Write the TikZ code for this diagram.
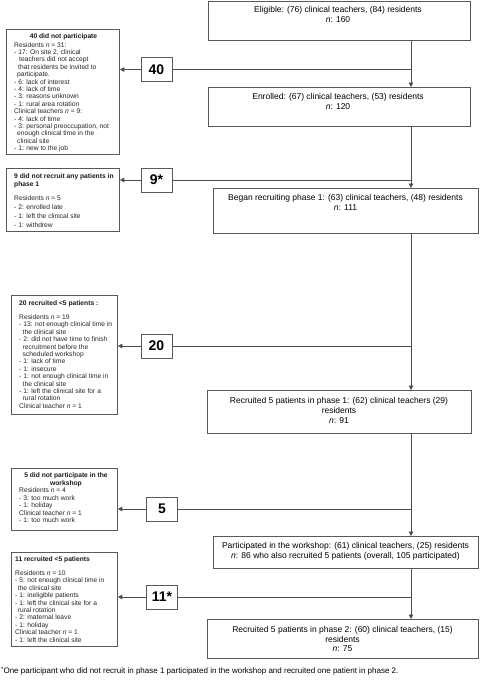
\documentclass[tikz,border=0pt]{standalone}
\usepackage{fontspec}
\setmainfont{Liberation Sans}
\usetikzlibrary{arrows.meta,calc}
\begin{document}
\begin{tikzpicture}[x=1pt,y=-1pt,
  box/.style={draw=black!65, line width=0.8pt, fill=white, inner sep=0pt, anchor=north west},
  mtext/.style={font=\fontsize{8.5}{10}\selectfont, align=center, inner sep=0pt, anchor=north},
  ltext/.style={font=\fontsize{6.7}{7.4}\selectfont, align=left, inner sep=0pt, anchor=north west, text=black!85},
  ltitle/.style={font=\fontsize{6.7}{7.8}\selectfont\bfseries, inner sep=0pt, text=black!90},
  numbox/.style={draw=black!65, line width=0.8pt, fill=white, minimum width=31pt, minimum height=24pt, inner sep=0pt, font=\fontsize{14}{14}\selectfont\bfseries},
  ln/.style={draw=black!70, line width=0.8pt},
  arr/.style={ln, -{Triangle[length=4.5pt,width=4.5pt]}}
]
\useasboundingbox (0,0) rectangle (480,680);
% main boxes
\node[box, minimum width=262pt, minimum height=39pt] (elig) at (208,1) {};
\node[mtext] at (338,6.6) {Eligible: (76) clinical teachers, (84) residents\\\textit{n}: 160};
\node[box, minimum width=262pt, minimum height=39pt] (enr) at (208,87) {};
\node[mtext] at (338,93.6) {Enrolled: (67) clinical teachers, (53) residents\\\textit{n}: 120};
\node[box, minimum width=265pt, minimum height=45pt] (began) at (213,188) {};
\node[mtext] at (345.5,194.6) {Began recruiting phase 1: (63) clinical teachers, (48) residents\\\textit{n}: 111};
\node[box, minimum width=264pt, minimum height=43pt] (rec1) at (207,390) {};
\node[mtext] at (339,397.3) {Recruited 5 patients in phase 1: (62) clinical teachers (29)\\residents\\\textit{n}: 91};
\node[box, minimum width=265pt, minimum height=32pt] (part) at (213,536) {};
\node[mtext] at (345.5,542.6) {Participated in the workshop: (61) clinical teachers, (25) residents\\\textit{n}: 86 who also recruited 5 patients (overall, 105 participated)};
\node[box, minimum width=271pt, minimum height=39pt] (rec2) at (207,619) {};
\node[mtext, font=\fontsize{8.5}{9.5}\selectfont] at (342.5,626.6) {Recruited 5 patients in phase 2: (60) clinical teachers, (15)\\residents\\\textit{n}: 75};
% junctions
\coordinate (j40) at (411,69.5);
\coordinate (j9) at (411,180);
\coordinate (j20) at (411,346);
\coordinate (j5) at (411,509);
\coordinate (j11) at (411,597);
% left boxes
\node[box, minimum width=113pt, minimum height=125pt] (b40) at (6,29) {};
\node[ltitle] at (63.5,37) {40 did not participate};
\node[ltext] at (14,42) {Residents \textit{n} = 31:\\
- 17: On site 2, clinical\\
\hspace*{5pt}teachers did not accept\\
\hspace*{4pt}that residents be invited to\\
\hspace*{3pt}participate.\\
- 6: lack of interest\\
- 4: lack of time\\
- 3: reasons unknown\\
- 1: rural area rotation\\
Clinical teachers \textit{n} = 9:\\
- 4: lack of time\\
- 3: personal preoccupation, not\\
\hspace*{3pt}enough clinical time in the\\
\hspace*{3pt}clinical site\\
- 1: new to the job};
\node[box, minimum width=113pt, minimum height=63pt] (b9) at (6,168) {};
\node[ltitle, align=left, anchor=north west] at (14,173.4) {9 did not recruit any patients in\\phase 1};
\node[ltext, font=\fontsize{6.7}{9}\selectfont] at (14,195.5) {Residents \textit{n} = 5\\
- 2: enrolled late\\
- 1: left the clinical site\\
- 1: withdrew};
\node[box, minimum width=106pt, minimum height=119pt] (b20) at (11,295) {};
\node[ltitle, anchor=north west] at (19,300.5) {20 recruited <5 patients :};
\node[ltext] at (19,314.5) {Residents \textit{n} = 19\\
- 13: not enough clinical time in\\
\hspace*{3.5pt}the clinical site\\
- 2: did not have time to finish\\
\hspace*{3.5pt}recruitment before the\\
\hspace*{3.5pt}scheduled workshop\\
- 1: lack of time\\
- 1: insecure\\
- 1: not enough clinical time in\\
\hspace*{3.5pt}the clinical site\\
- 1: left the clinical site for a\\
\hspace*{3.5pt}rural rotation\\
Clinical teacher \textit{n} = 1};
\node[box, minimum width=106pt, minimum height=62pt] (b5) at (11,468) {};
\node[ltitle, align=center, anchor=north] at (66,472.5) {5 did not participate in the\\workshop};
\node[ltext, font=\fontsize{6.7}{7.5}\selectfont] at (19,487.5) {Residents \textit{n} = 4\\
- 3: too much work\\
- 1: holiday\\
Clinical teacher \textit{n} = 1\\
- 1: too much work};
\node[box, minimum width=106pt, minimum height=94pt] (b11) at (11,552) {};
\node[ltitle, anchor=north west] at (15,556.5) {11 recruited <5 patients};
\node[ltext] at (15,570.5) {Residents \textit{n} = 10\\
- 5: not enough clinical time in\\
\hspace*{2.7pt}the clinical site\\
- 1: ineligible patients\\
- 1: left the clinical site for a\\
\hspace*{2.7pt}rural rotation\\
- 2: maternal leave\\
- 1: holiday\\
Clinical teacher \textit{n} = 1\\
- 1: left the clinical site};
% number boxes
\node[numbox] (n40) at (156.5,69.5) {40};
\node[numbox] (n9) at (156.5,180) {9*};
\node[numbox] (n20) at (156.5,346) {20};
\node[numbox] (n5) at (162,509) {5};
\node[numbox] (n11) at (162,597) {11*};
% connectors
\draw[arr] (elig.south -| j40) -- (enr.north -| j40);
\draw[ln] (j40) -- (n40);
\draw[arr] (n40) -- (n40 -| b40.east);
\draw[arr] (enr.south -| j9) -- (began.north -| j9);
\draw[ln] (j9) -- (n9);
\draw[arr] (n9) -- (n9 -| b9.east);
\draw[arr] (began.south -| j20) -- (rec1.north -| j20);
\draw[ln] (j20) -- (n20);
\draw[arr] (n20) -- (n20 -| b20.east);
\draw[arr] (rec1.south -| j5) -- (part.north -| j5);
\draw[ln] (j5) -- (n5);
\draw[arr] (n5) -- (n5 -| b5.east);
\draw[arr] (part.south -| j11) -- (rec2.north -| j11);
\draw[ln] (j11) -- (n11);
\draw[arr] (n11) -- (n11 -| b11.east);
% footnote
\node[font=\fontsize{8}{9}\selectfont, anchor=west, inner sep=0pt] (fn) at (1,671) {\raisebox{2pt}{\fontsize{6}{6}\selectfont*}One participant who did not recruit in phase 1 participated in the workshop and recruited one patient in phase 2.};
\end{tikzpicture}
\end{document}
